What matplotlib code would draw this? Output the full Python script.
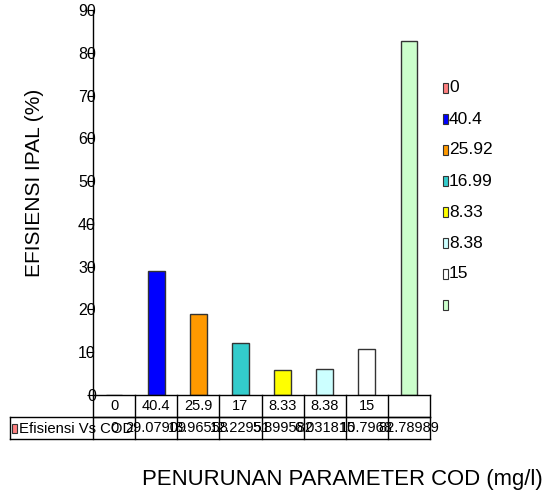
import matplotlib.pyplot as plt
from matplotlib.patches import Rectangle

plt.rcParams['font.family'] = ['Liberation Sans', 'DejaVu Sans']

# data
cod_labels = ['0', '40.4', '25.9', '17', '8.33', '8.38', '15', '']
legend_labels = ['0', '40.4', '25.92', '16.99', '8.33', '8.38', '15', '']
efisiensi = [0, 29.07909, 18.96558, 12.22951, 5.899582, 6.031815, 10.7968, 82.78989]
efisiensi_txt = ['0', '29.07909', '18.96558', '12.22951', '5.899582', '6.031815', '10.7968', '82.78989']
colors = ['#FF8080', '#0000FF', '#FF9900', '#33CCCC', '#FFFF00', '#CCFFFF', '#FFFFFF', '#CCFFCC']
series_name = 'Efisiensi Vs COD'

W, H = 554, 494
fig = plt.figure(figsize=(W / 100, H / 100), dpi=100)
ax = fig.add_axes([93 / W, (H - 395) / H, 337 / W, 385 / H])

x = list(range(len(efisiensi)))
ax.bar(x, efisiensi, width=0.4, color=colors, edgecolor='#333333', linewidth=1)

ax.set_xlim(-0.5, 7.5)
ax.set_ylim(0, 90)
ax.set_yticks(range(0, 91, 10))
ax.tick_params(axis='y', labelsize=11.5, length=4, pad=-6, direction='out')
ax.set_xticks([])
for s in ['top', 'right']:
    ax.spines[s].set_visible(False)
ax.spines['left'].set_linewidth(1)
ax.spines['bottom'].set_linewidth(1)

# y label sits a little above the axis centre, as in the reference
fig.text(35 / W, (H - 183) / H, 'EFISIENSI IPAL (%)', fontsize=15, rotation=90,
         ha='center', va='center')

# data table below the axis
tr = ax.get_xaxis_transform()
rh = 22 / 385
left_hdr = (10 - 93) / (337 / 8) - 0.5
kw = dict(transform=tr, clip_on=False, color='black', lw=1)
ax.plot([-0.5, 7.5], [-rh, -rh], **kw)
ax.plot([left_hdr, 7.5], [-rh, -rh], **kw)
ax.plot([left_hdr, 7.5], [-2 * rh, -2 * rh], **kw)
ax.plot([left_hdr, left_hdr], [-rh, -2 * rh], **kw)
for i in range(len(x) + 1):
    ax.plot([i - 0.5, i - 0.5], [0, -2 * rh], **kw)

for i in x:
    ax.text(i, -rh / 2, cod_labels[i], transform=tr, ha='center', va='center', fontsize=10.5)
    ax.text(i, -1.5 * rh, efisiensi_txt[i], transform=tr, ha='center', va='center', fontsize=10.5)

# series key in table header
kx = 12 / W
ky = (H - 433) / H
fig.patches.append(Rectangle((kx, ky), 5 / W, 9 / H, transform=fig.transFigure,
                             facecolor=colors[0], edgecolor='#333333', lw=0.8))
fig.text(19 / W, (H - 429) / H, series_name, fontsize=10.7, va='center', ha='left')

# legend
for i, lab in enumerate(legend_labels):
    yy = H - 88 - i * 31
    fig.patches.append(Rectangle((443 / W, (yy - 5) / H), 5 / W, 10 / H, transform=fig.transFigure,
                                 facecolor=colors[i], edgecolor='#333333', lw=0.8))
    fig.text(449 / W, yy / H, lab, fontsize=12.5, va='center', ha='left')

fig.text(342 / W, (H - 479) / H, 'PENURUNAN PARAMETER COD (mg/l)', fontsize=15.9, ha='center', va='center')

fig.savefig('out.png', dpi=100)
